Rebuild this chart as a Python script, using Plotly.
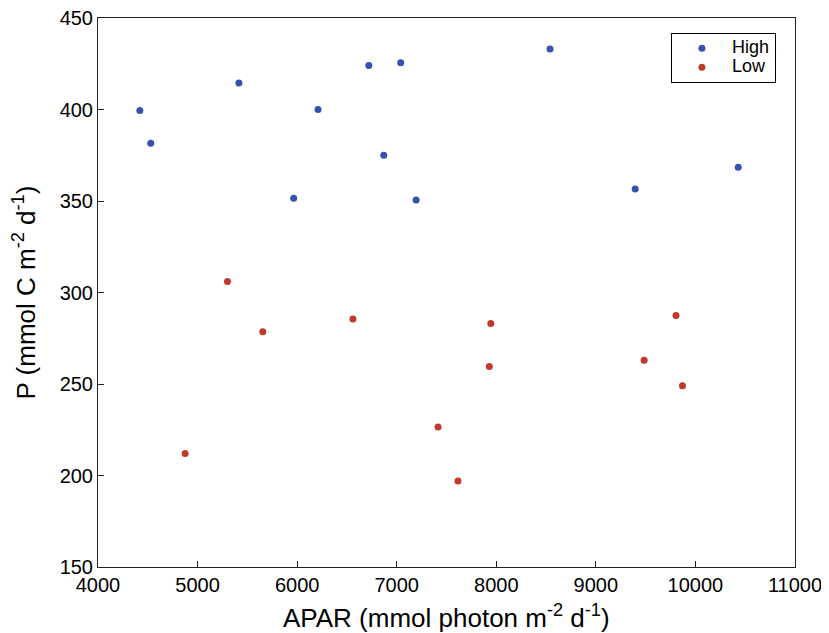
import plotly.graph_objects as go

high_x = [4420, 4530, 5415, 6210, 5965, 6720, 7040, 6870, 7195, 8540, 9395, 10430]
high_y = [399.5, 381.5, 414.5, 400.0, 351.5, 424.0, 425.5, 375.0, 350.5, 433.0, 356.5, 368.5]
low_x = [5300, 5655, 4875, 6560, 7415, 7615, 7945, 7930, 9485, 9805, 9870]
low_y = [306.0, 278.5, 212.0, 285.5, 226.5, 197.0, 283.0, 259.5, 263.0, 287.5, 249.0]

FONT = "Liberation Sans, Arial, sans-serif"

def big(t):
    return "<span style='font-size:18px'>" + t + "</span>"

fig = go.Figure()
fig.add_trace(go.Scatter(x=high_x, y=high_y, mode="markers", name=big("High"),
                         marker=dict(color="#3552b0", size=7)))
fig.add_trace(go.Scatter(x=low_x, y=low_y, mode="markers", name=big("Low"),
                         marker=dict(color="#c0392b", size=7)))

axis_common = dict(showgrid=False, zeroline=False, showline=True, linecolor="#222",
                   linewidth=1, mirror=True, ticks="inside", ticklen=6,
                   tickcolor="#222", automargin=False, ticklabeloverflow="allow",
                   tickfont=dict(size=20, family=FONT, color="black"))

fig.update_layout(
    width=821, height=625,
    paper_bgcolor="white", plot_bgcolor="white",
    margin=dict(l=90, r=34, t=10, b=66),
    font=dict(family=FONT, color="black"),
    xaxis=dict(range=[4000, 11000], dtick=1000, tick0=4000, tickformat="d",
               **axis_common),
    yaxis=dict(range=[150, 450.001], dtick=50, tick0=150, tickformat="d",
               **axis_common),
    legend=dict(x=0.822, y=0.973, xanchor="left", yanchor="top",
                bordercolor="black", borderwidth=1, bgcolor="white",
                font=dict(size=12, family=FONT), itemwidth=50,
                tracegroupgap=0),
    showlegend=True,
    annotations=[
        dict(text="APAR (mmol photon m<sup>-2</sup> d<sup>-1</sup>)",
             xref="paper", yref="paper", x=0.5, y=0, yshift=-49,
             xanchor="center", yanchor="middle", showarrow=False,
             font=dict(size=26, family=FONT)),
        dict(text="P (mmol C m<sup>-2</sup> d<sup>-1</sup>)",
             xref="paper", yref="paper", x=0, y=0.5, xshift=-73,
             xanchor="center", yanchor="middle", textangle=-90, showarrow=False,
             font=dict(size=26, family=FONT)),
    ],
)

fig.write_html("out.html")
